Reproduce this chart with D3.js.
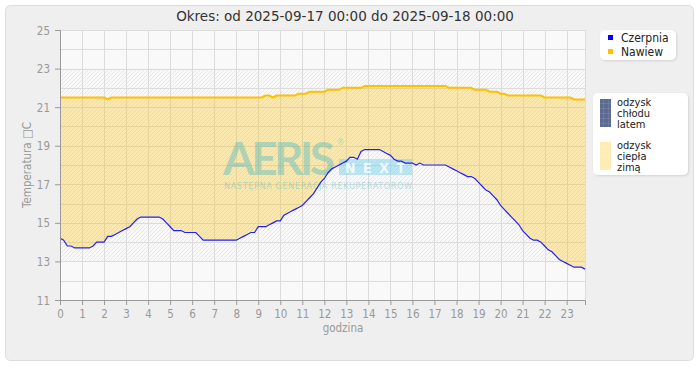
<!DOCTYPE html>
<html>
<head>
<meta charset="utf-8">
<script src="https://cdn.jsdelivr.net/npm/d3@7"></script>
<style>
  body { margin: 0; background: #fff; }
  text { font-family: "DejaVu Sans Condensed", "DejaVu Sans", sans-serif; }
</style>
</head>
<body>
<div id="chart"></div>
<script>
var title = "Okres: od 2025-09-17 00:00 do 2025-09-18 00:00";
var seriesNames = ["Czerpnia", "Nawiew"];
var seriesColors = ["#0000ff", "#ffc000"];
var xTicks = d3.range(0, 24);
var yTicks = [11, 13, 15, 17, 19, 21, 23, 25];
var stepHours = 1 / 6; // pomiar co 10 minut

// czerpnia - 6 wartosci na godzine
var czerpnia = [
  14.2, 14.1, 13.8, 13.8, 13.7, 13.7,
  13.7, 13.7, 13.7, 13.8, 14.0, 14.0,
  14.0, 14.3, 14.3, 14.4, 14.5, 14.6,
  14.7, 14.8, 15.0, 15.2, 15.3, 15.3,
  15.3, 15.3, 15.3, 15.3, 15.2, 15.0,
  14.8, 14.6, 14.6, 14.6, 14.5, 14.5,
  14.5, 14.5, 14.3, 14.1, 14.1, 14.1,
  14.1, 14.1, 14.1, 14.1, 14.1, 14.1,
  14.1, 14.2, 14.3, 14.4, 14.5, 14.5,
  14.8, 14.8, 14.8, 14.9, 15.0, 15.1,
  15.1, 15.4, 15.5, 15.6, 15.7, 15.8,
  15.9, 16.1, 16.3, 16.5, 16.8, 17.1,
  17.3, 17.6, 17.8, 17.9, 18.0, 18.1,
  18.2, 18.4, 18.4, 18.3, 18.7, 18.8,
  18.8, 18.8, 18.8, 18.8, 18.7, 18.6,
  18.5, 18.3, 18.2, 18.2, 18.1, 18.1,
  18.1, 18.0, 18.1, 18.0, 18.0, 18.0,
  18.0, 18.0, 18.0, 18.0, 17.9, 17.8,
  17.7, 17.6, 17.5, 17.4, 17.4, 17.3,
  17.1, 16.9, 16.7, 16.6, 16.4, 16.2,
  15.9, 15.7, 15.5, 15.3, 15.1, 14.9,
  14.6, 14.4, 14.2, 14.1, 14.1, 14.0,
  13.8, 13.6, 13.5, 13.3, 13.1, 13.0,
  12.9, 12.8, 12.7, 12.7, 12.7, 12.6
];

var nawiew = [
  21.5, 21.5, 21.5, 21.5, 21.5, 21.5,
  21.5, 21.5, 21.5, 21.5, 21.5, 21.5,
  21.5, 21.4, 21.5, 21.5, 21.5, 21.5,
  21.5, 21.5, 21.5, 21.5, 21.5, 21.5,
  21.5, 21.5, 21.5, 21.5, 21.5, 21.5,
  21.5, 21.5, 21.5, 21.5, 21.5, 21.5,
  21.5, 21.5, 21.5, 21.5, 21.5, 21.5,
  21.5, 21.5, 21.5, 21.5, 21.5, 21.5,
  21.5, 21.5, 21.5, 21.5, 21.5, 21.5,
  21.5, 21.5, 21.6, 21.6, 21.5, 21.6,
  21.6, 21.6, 21.6, 21.6, 21.6, 21.7,
  21.7, 21.7, 21.8, 21.8, 21.8, 21.8,
  21.8, 21.9, 21.9, 21.9, 21.9, 22.0,
  22.0, 22.0, 22.0, 22.0, 22.0, 22.1,
  22.1, 22.1, 22.1, 22.1, 22.1, 22.1,
  22.1, 22.1, 22.1, 22.1, 22.1, 22.1,
  22.1, 22.1, 22.1, 22.1, 22.1, 22.1,
  22.1, 22.1, 22.1, 22.1, 22.0, 22.0,
  22.0, 22.0, 22.0, 22.0, 22.0, 21.9,
  21.9, 21.9, 21.9, 21.8, 21.8, 21.8,
  21.7, 21.7, 21.6, 21.6, 21.6, 21.6,
  21.6, 21.6, 21.6, 21.6, 21.6, 21.6,
  21.5, 21.5, 21.5, 21.5, 21.5, 21.5,
  21.5, 21.5, 21.4, 21.4, 21.4, 21.4
];

var comfortRange = [13, 23];

var outerWidth = 700,
    outerHeight = 380,
    margin = { top: 30, left: 60 },
    width = 525,
    height = 270;

var data = czerpnia.map(function(d, i) {
    return { h: i * stepHours, c: d, n: nawiew[i] };
});

var x = d3.scaleLinear()
    .domain([0, (czerpnia.length - 1) * stepHours])
    .range([0, width]);

var y = d3.scaleLinear()
    .domain([11, 25])
    .range([height, 0]);

var svg = d3.select("#chart")
    .append("svg")
    .attr("width", outerWidth)
    .attr("height", outerHeight);

var defs = svg.append("defs");

var hatch = defs.append("pattern")
    .attr("id", "hatch")
    .attr("patternUnits", "userSpaceOnUse")
    .attr("width", 4)
    .attr("height", 4);
hatch.append("rect").attr("width", 4).attr("height", 4).attr("fill", "#f9f9f9");
hatch.append("path")
    .attr("d", "M0,4 L4,0 M-1,1 L1,-1 M3,5 L5,3")
    .attr("stroke", "#e0e0e0")
    .attr("stroke-width", 0.7);

var gridPat = defs.append("pattern")
    .attr("id", "swatchGrid")
    .attr("patternUnits", "userSpaceOnUse")
    .attr("width", 5)
    .attr("height", 5);
gridPat.append("path")
    .attr("d", "M0,0 L5,0 M0,0 L0,5")
    .attr("stroke", "#ffffff")
    .attr("stroke-opacity", 0.2)
    .attr("stroke-width", 1);

var shadow = defs.append("filter").attr("id", "shadow")
    .attr("x", "-10%").attr("y", "-10%").attr("width", "130%").attr("height", "130%");
shadow.append("feDropShadow")
    .attr("dx", 1).attr("dy", 1).attr("stdDeviation", 1.2)
    .attr("flood-color", "#000").attr("flood-opacity", 0.12);

// panel
svg.append("rect")
    .attr("x", 5.5)
    .attr("y", 5.5)
    .attr("width", 688)
    .attr("height", 355)
    .attr("rx", 5)
    .attr("fill", "#efefef")
    .attr("stroke", "#dddddd");

svg.append("text")
    .attr("x", 345)
    .attr("y", 21)
    .attr("text-anchor", "middle")
    .style("font-family", "'DejaVu Sans', sans-serif")
    .style("font-size", "13.5px")
    .style("fill", "#333")
    .text(title);

var g = svg.append("g")
    .attr("transform", "translate(" + margin.left + "," + margin.top + ")");

g.append("rect")
    .attr("width", width)
    .attr("height", height)
    .attr("fill", "#f9f9f9");

g.append("rect")
    .attr("y", y(comfortRange[1]))
    .attr("width", width)
    .attr("height", y(comfortRange[0]) - y(comfortRange[1]))
    .attr("fill", "url(#hatch)");

// siatka
g.append("g")
    .selectAll("line")
    .data(d3.range(11, 26))
    .enter().append("line")
    .attr("x1", 0)
    .attr("x2", width)
    .attr("y1", function(d) { return Math.round(y(d)) + 0.5; })
    .attr("y2", function(d) { return Math.round(y(d)) + 0.5; })
    .attr("stroke", "#dcdcdc");

g.append("g")
    .selectAll("line")
    .data(xTicks.concat([x.domain()[1]]))
    .enter().append("line")
    .attr("x1", function(d) { return Math.round(x(d)) + 0.5; })
    .attr("x2", function(d) { return Math.round(x(d)) + 0.5; })
    .attr("y1", 0)
    .attr("y2", height)
    .attr("stroke", "#dcdcdc");

var area = d3.area()
    .x(function(d) { return x(d.h); })
    .y0(function(d) { return y(d.c); })
    .y1(function(d) { return y(d.n); });

g.append("path")
    .datum(data)
    .attr("d", area)
    .attr("fill", "#ffc000")
    .attr("fill-opacity", 0.3);

g.append("path")
    .datum(data)
    .attr("d", d3.line().x(function(d) { return x(d.h); }).y(function(d) { return y(d.n); }))
    .attr("fill", "none")
    .attr("stroke", seriesColors[1])
    .attr("stroke-width", 2);

// logo w tle
var logo = g.append("g").attr("transform", "translate(163,145)");
logo.append("text")
    .attr("x", 0)
    .attr("y", 0)
    .style("font-size", "46px")
    .style("font-weight", "bold")
    .style("font-family", "Lato, 'DejaVu Sans', sans-serif")
    .attr("textLength", 112)
    .attr("fill", "#48b9c4")
    .attr("fill-opacity", 0.42)
    .text("AERIS");
logo.append("text")
    .attr("x", 114)
    .attr("y", -30)
    .style("font-size", "8px")
    .attr("fill", "#48b9c4")
    .attr("fill-opacity", 0.42)
    .text("®");
logo.append("rect")
    .attr("x", 116)
    .attr("y", -16)
    .attr("width", 73)
    .attr("height", 16)
    .attr("fill", "#60cdf0")
    .attr("fill-opacity", 0.4);
logo.append("text")
    .attr("x", 122)
    .attr("y", -2)
    .attr("textLength", 60)
    .style("font-size", "14px")
    .style("font-weight", "bold")
    .attr("fill", "#ffffff")
    .attr("fill-opacity", 0.8)
    .text("NEXT");
logo.append("text")
    .attr("x", 1)
    .attr("y", 14)
    .attr("textLength", 188)
    .style("font-size", "9px")
    .attr("fill", "#48b9c4")
    .attr("fill-opacity", 0.42)
    .text("NASTĘPNA GENERACJA REKUPERATORÓW");

g.append("path")
    .datum(data)
    .attr("d", d3.line().x(function(d) { return x(d.h); }).y(function(d) { return y(d.c); }))
    .attr("fill", "none")
    .attr("stroke", "#2020ff")
    .attr("stroke-width", 1.2);

// osie
var xAxis = d3.axisBottom(x)
    .tickValues(xTicks)
    .tickSize(5)
    .tickFormat(d3.format("d"));

var yAxis = d3.axisLeft(y)
    .tickValues(yTicks)
    .tickSize(5)
    .tickFormat(d3.format("d"));

var gx = g.append("g")
    .attr("transform", "translate(0," + height + ")")
    .call(xAxis);

var gy = g.append("g")
    .call(yAxis);

[gx, gy].forEach(function(a) {
    a.select(".domain").attr("stroke", "#999");
    a.selectAll(".tick line").attr("stroke", "#999");
    a.selectAll(".tick text")
        .attr("fill", "#999")
        .style("font-size", "11.5px")
        .style("font-family", "'DejaVu Sans Condensed', 'DejaVu Sans', sans-serif");
});
gx.selectAll(".tick text").attr("dy", "0.9em");
gy.selectAll(".tick text").attr("dy", "0.35em").attr("x", -10);

svg.append("text")
    .attr("x", 343)
    .attr("y", 332)
    .attr("text-anchor", "middle")
    .style("font-size", "11.5px")
    .style("fill", "#999")
    .text("godzina");

svg.append("text")
    .attr("transform", "translate(31,165) rotate(-90)")
    .attr("text-anchor", "middle")
    .style("font-size", "11.5px")
    .style("fill", "#999")
    .text("Temperatura \u25A1C");

// legenda serii
var leg1 = svg.append("g").attr("transform", "translate(600,30)");
leg1.append("rect")
    .attr("width", 76)
    .attr("height", 30)
    .attr("rx", 5)
    .attr("fill", "#fff")
    .attr("filter", "url(#shadow)");
var items = leg1.selectAll(".item")
    .data(seriesNames)
    .enter().append("g")
    .attr("class", "item")
    .attr("transform", function(d, i) { return "translate(0," + (i * 14) + ")"; });
items.append("rect")
    .attr("x", 8)
    .attr("y", 5)
    .attr("width", 5)
    .attr("height", 5)
    .attr("fill", function(d, i) { return seriesColors[i]; });
items.append("text")
    .attr("x", 21)
    .attr("y", 12)
    .style("font-size", "12px")
    .style("fill", "#222")
    .text(function(d) { return d; });

// legenda odzysku
var recovery = [
    { lines: ["odzysk", "chłodu", "latem"], color: "#5b6a92", opacity: 1 },
    { lines: ["odzysk", "ciepła", "zimą"], color: "#ffc000", opacity: 0.3 }
];
var leg2 = svg.append("g").attr("transform", "translate(593,93)");
leg2.append("rect")
    .attr("width", 95)
    .attr("height", 82)
    .attr("rx", 5)
    .attr("fill", "#fff")
    .attr("filter", "url(#shadow)");
var rItems = leg2.selectAll(".ritem")
    .data(recovery)
    .enter().append("g")
    .attr("class", "ritem")
    .attr("transform", function(d, i) { return "translate(0," + (i * 43) + ")"; });
rItems.append("rect")
    .attr("x", 7)
    .attr("y", 6)
    .attr("width", 11)
    .attr("height", 28)
    .attr("fill", function(d) { return d.color; })
    .attr("fill-opacity", function(d) { return d.opacity; });
rItems.append("rect")
    .attr("x", 7)
    .attr("y", 6)
    .attr("width", 11)
    .attr("height", 28)
    .attr("fill", "url(#swatchGrid)");
rItems.append("text")
    .style("font-size", "11px")
    .style("fill", "#222")
    .selectAll("tspan")
    .data(function(d) { return d.lines; })
    .enter().append("tspan")
    .attr("x", 24)
    .attr("y", function(d, i) { return 13 + i * 11; })
    .text(function(d) { return d; });
</script>
</body>
</html>
